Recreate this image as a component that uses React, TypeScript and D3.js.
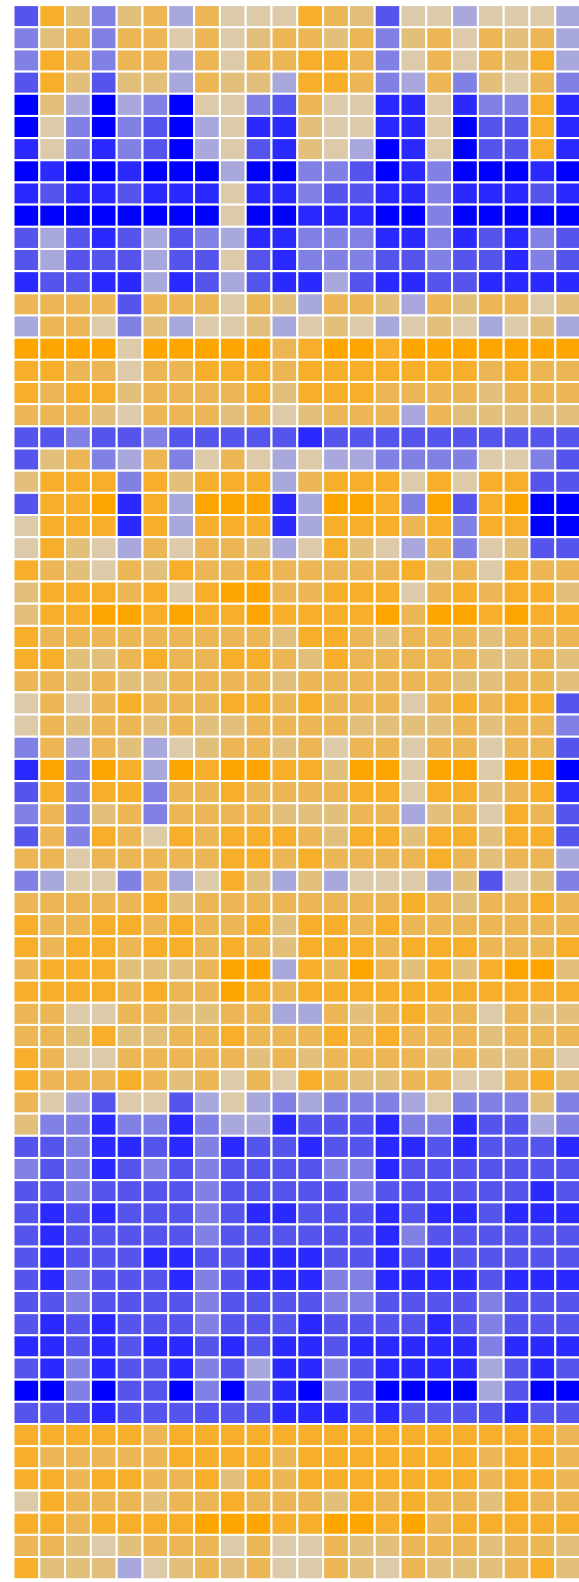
import React from "react";
import * as d3 from "d3";

// Colour bucket (0 = deepest blue … 9 = deepest orange) of each cell, read row by row.
const rowsA = [
[2,8,6,3,6,7,4,7,5,5,5,8,7,6,2,5,5,4,5,5,5,4],
[3,6,7,3,7,7,5,7,5,6,7,7,6,7,3,6,7,5,7,6,7,4],
[3,8,7,3,7,7,4,7,5,7,7,8,8,7,3,5,7,5,7,6,8,4],
[2,8,6,2,6,6,4,7,6,6,4,8,8,7,3,4,7,3,6,5,7,3],
[0,6,4,0,4,3,0,5,5,3,2,7,5,5,1,1,5,1,3,3,8,1],
[0,5,3,0,3,2,0,4,5,1,1,6,5,5,1,1,5,0,2,2,8,1],
[1,5,3,1,3,2,0,4,5,2,1,6,5,4,0,1,5,0,2,2,8,1],
[0,1,0,0,1,0,0,0,4,0,0,3,3,2,0,1,3,0,0,0,1,0],
[1,2,1,1,2,1,1,1,5,1,1,3,2,2,1,1,3,1,1,1,2,1],
[0,0,0,0,0,0,0,0,5,0,0,1,1,1,0,0,3,0,0,0,0,0],
[2,4,2,1,2,4,2,3,4,1,1,3,3,3,1,1,3,1,2,1,3,2],
[2,4,2,2,2,4,2,2,5,2,1,3,3,3,2,2,3,2,2,1,3,2],
[1,2,2,1,1,4,1,2,4,2,1,1,4,2,1,1,2,2,1,1,1,1],
[7,7,7,7,2,7,7,7,5,7,6,4,7,7,6,4,7,6,7,7,5,6],
[4,7,7,5,3,6,4,5,5,6,4,5,6,5,4,5,6,5,4,5,6,4],
[9,9,9,9,5,9,9,9,9,9,7,8,9,9,8,9,9,9,9,9,9,9],
[8,8,7,7,5,7,7,8,8,8,7,8,8,8,8,8,8,8,7,8,7,7],
[8,7,8,8,6,7,7,7,7,8,6,8,8,8,7,7,7,7,6,7,7,7],
];
const rowsB = [
[7,7,7,6,5,7,7,7,6,7,5,6,7,7,7,4,7,6,6,6,6,6],
[2,2,3,2,2,3,2,2,2,2,2,1,2,2,2,2,2,2,2,2,2,2],
[2,6,7,3,4,7,3,5,7,5,4,5,4,4,3,3,3,3,5,5,3,2],
[6,8,8,8,3,8,6,8,8,8,4,7,8,8,8,5,8,5,8,8,2,2],
[2,8,8,9,1,8,4,9,9,9,1,4,9,9,8,3,9,2,8,9,0,0],
[5,8,8,8,1,8,4,8,8,8,1,4,8,8,8,7,8,3,8,8,0,0],
[5,8,6,5,4,7,5,7,7,6,4,5,8,6,5,4,7,3,5,6,2,2],
[8,7,6,5,7,6,8,7,7,8,7,7,7,7,7,8,6,7,5,8,7,7],
[6,8,8,8,7,8,5,8,9,9,7,7,8,8,8,5,7,8,7,8,8,6],
[6,8,8,9,9,8,9,8,8,9,8,8,8,8,9,7,9,9,8,9,8,8],
[8,7,7,7,7,7,7,7,7,7,6,8,8,7,6,7,7,7,6,7,7,7],
[8,8,6,6,7,8,7,7,8,8,7,6,8,7,7,7,7,7,6,6,7,6],
[7,7,6,7,6,6,7,7,7,7,6,7,7,7,7,7,7,6,6,7,7,6],
[5,7,5,7,8,7,7,7,8,8,7,8,7,7,7,5,7,8,7,8,8,2],
[5,7,6,7,7,6,7,6,6,7,7,7,7,6,6,6,6,7,6,7,7,3],
[3,7,4,7,6,4,5,6,7,7,6,7,5,7,7,5,7,7,5,7,7,2],
[1,9,3,9,8,4,9,8,9,9,8,8,6,9,9,5,9,9,5,9,9,0],
[2,8,3,8,8,3,7,7,8,7,7,7,7,8,8,5,8,8,6,7,8,1],
];
const rowsC = [
[3,7,3,6,7,3,7,7,7,7,6,6,6,7,7,4,6,7,5,8,7,2],
[2,7,3,8,7,5,8,7,8,8,8,7,6,8,8,6,8,8,6,8,8,2],
[7,7,5,7,7,7,7,7,8,8,7,8,7,7,7,7,8,7,6,7,7,4],
[3,4,5,5,3,7,4,5,8,6,4,6,4,5,5,5,4,6,2,5,6,3],
[7,7,7,7,7,8,6,7,7,7,7,7,7,7,7,8,7,6,7,7,8,7],
[8,7,7,8,8,7,8,7,7,8,6,8,8,7,8,7,7,7,7,7,7,7],
[8,7,8,8,7,8,8,7,8,7,6,8,8,8,7,8,8,8,7,7,7,8],
[7,8,8,8,6,6,6,7,9,9,4,8,7,9,7,6,8,6,8,9,9,6],
[8,8,8,8,7,8,7,7,9,8,7,8,8,8,8,8,8,8,8,8,8,8],
[7,7,5,5,7,7,6,6,7,7,4,4,7,6,7,8,7,7,5,7,6,6],
[7,7,6,8,6,6,7,7,8,7,7,7,8,7,8,7,7,7,6,7,7,7],
[8,7,5,5,7,7,7,7,7,6,7,6,7,7,7,7,6,7,6,6,7,5],
[8,7,7,7,8,7,6,7,5,7,5,8,7,6,6,7,7,5,5,7,8,6],
[7,5,4,2,5,5,2,4,5,4,3,4,3,3,3,4,5,3,3,3,6,3],
[6,3,3,1,3,3,1,3,4,4,1,2,2,2,1,3,3,1,2,2,4,3],
[2,2,3,1,1,2,1,3,1,2,2,1,2,2,1,1,2,1,2,2,2,1],
[3,2,3,1,2,3,2,3,2,2,2,2,3,3,1,2,2,2,2,2,2,2],
[2,2,3,2,2,2,2,3,2,2,2,2,2,3,2,2,2,2,2,2,1,2],
];
const rowsD = [
[2,1,2,1,2,2,2,3,2,1,1,2,2,2,1,2,1,1,2,1,1,1],
[2,1,2,2,2,2,2,3,2,2,2,2,2,2,1,3,2,2,2,2,2,2],
[2,1,2,2,2,1,1,2,2,1,1,1,2,2,1,2,1,2,2,2,2,2],
[2,1,3,2,2,2,1,3,2,1,1,1,3,3,1,1,1,1,2,1,1,1],
[2,2,3,2,2,2,2,3,2,2,2,2,3,3,2,2,2,2,3,2,2,2],
[2,1,2,1,2,2,2,3,2,2,2,1,2,2,2,2,1,2,3,2,2,2],
[1,1,2,1,2,1,1,2,1,2,1,1,2,1,1,1,1,1,3,1,1,1],
[2,1,3,1,2,2,1,3,2,4,1,1,3,2,1,1,1,1,4,2,1,2],
[0,0,3,0,2,2,0,3,0,3,1,0,3,2,0,0,0,0,4,2,0,0],
[2,2,2,1,2,2,2,2,2,2,1,1,1,2,1,2,2,2,2,1,2,2],
[8,8,8,8,8,7,8,8,8,8,8,8,8,8,8,8,8,8,8,8,8,7],
[8,7,7,7,7,7,8,8,8,8,7,8,8,8,8,8,8,8,7,8,8,7],
[8,8,7,8,8,7,7,8,6,8,7,8,8,8,8,8,8,8,7,8,8,7],
[5,8,7,7,7,6,7,7,8,7,7,7,6,8,7,8,7,7,6,8,7,7],
[8,8,7,8,8,8,8,9,9,9,8,8,9,9,8,9,7,8,8,8,8,8],
[7,7,6,5,6,7,7,7,5,7,5,5,7,6,6,7,7,7,6,7,7,6],
[8,6,6,6,4,5,6,7,6,7,5,5,7,6,5,7,6,6,6,7,8,6],
];
const rows = [...rowsA, ...rowsB, ...rowsC, ...rowsD];
const palette = ["#0000ff","#2a2aff","#5555ee","#8080e5","#a8a8dc","#dccaa8","#e3bf7c","#edb655","#f7ae2a","#ffa500"];

const W = 579, H = 1582;
const x = d3.scaleBand<number>().domain(d3.range(22)).range([13.5, 13.5 + 22 * 25.8]);
const y = d3.scaleBand<number>().domain(d3.range(rows.length)).range([5.1, 1579.2]);
const color = d3.scaleOrdinal<number, string>().domain(d3.range(10)).range(palette);

export default function App() {
  return (
    <svg width={W} height={H} style={{ position: "absolute", left: 0, top: 0, background: "#fff" }}>
      {rows.map((row, r) =>
        row.map((v, c) => (
          <rect key={`${r}-${c}`} x={x(c)} y={y(r)} width={x.bandwidth()} height={y.bandwidth()}
            fill={color(v)} stroke="#fff" strokeWidth={2} />
        ))
      )}
    </svg>
  );
}
